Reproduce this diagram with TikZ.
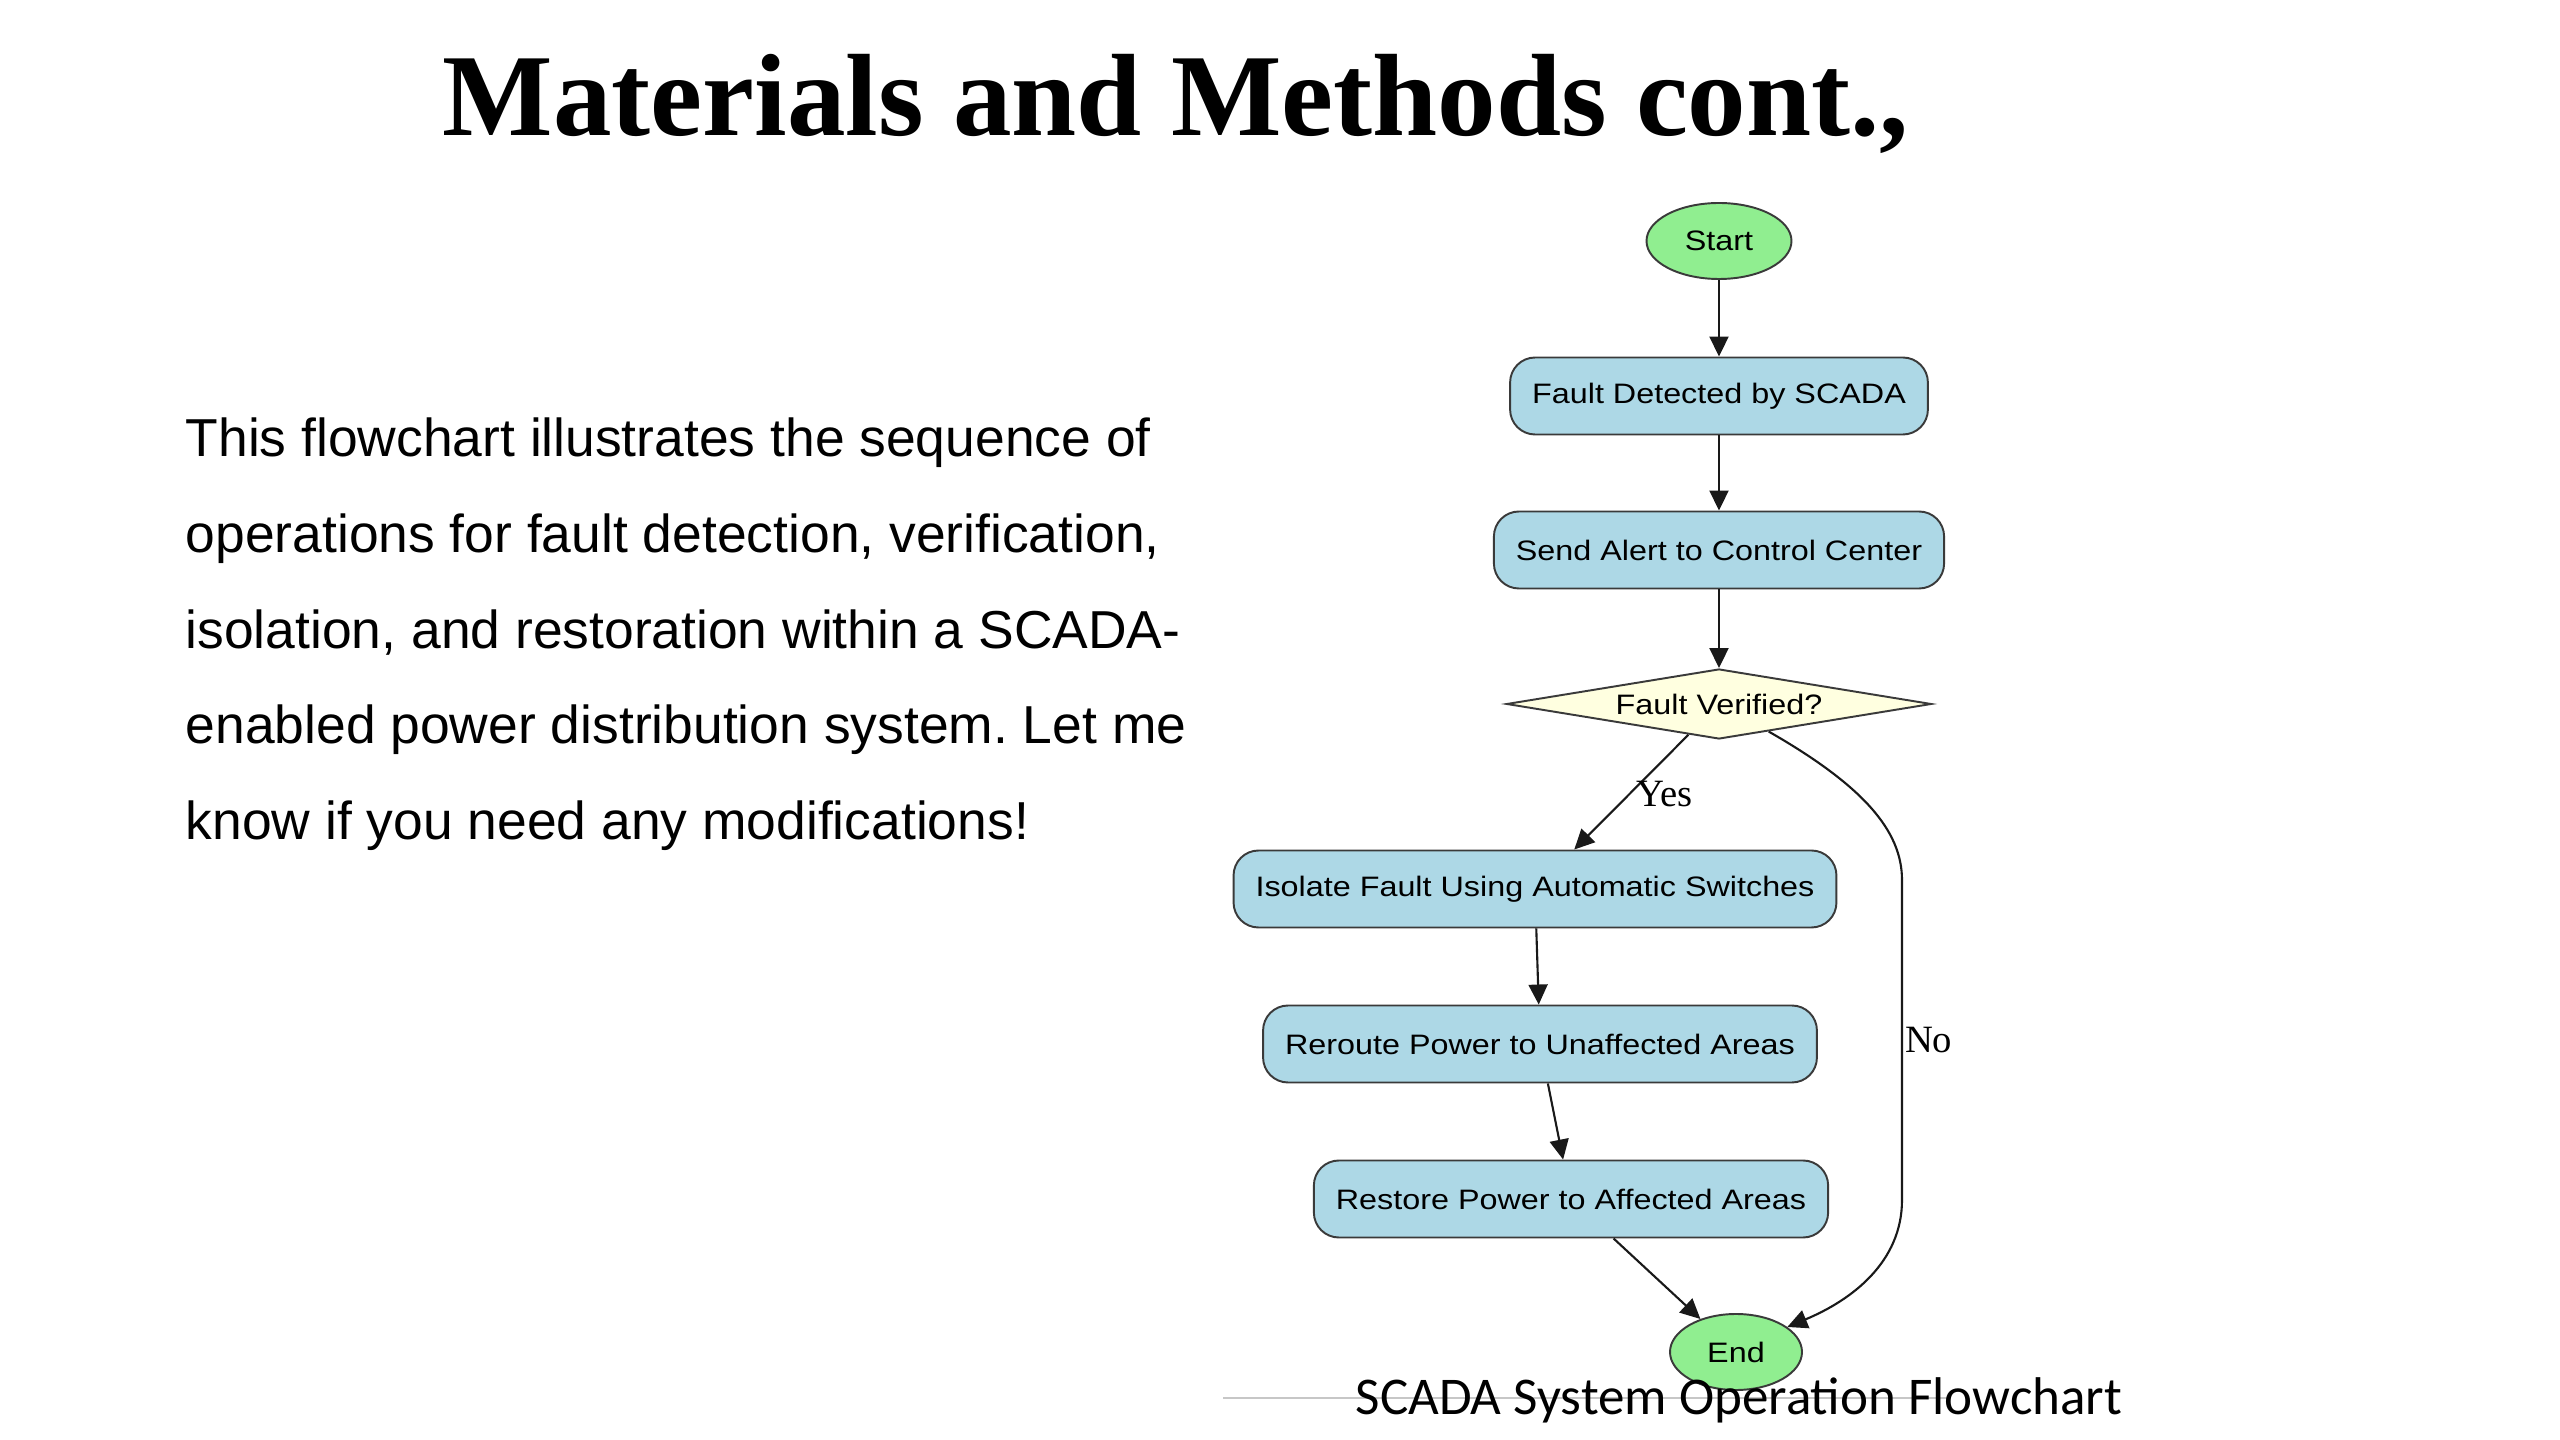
\documentclass[tikz,border=0pt]{standalone}
\usepackage{fontspec}
\setmainfont{Liberation Serif}
\newfontfamily\boxfont[FakeStretch=1.15]{Liberation Sans}
\newfontfamily\bodyfont{Liberation Sans}
\newfontfamily\capfont{Carlito}
\usetikzlibrary{shapes.geometric, arrows.meta}
\definecolor{boxblue}{HTML}{ADD8E6}
\definecolor{termgreen}{HTML}{90EE90}
\definecolor{askyellow}{HTML}{FFFFE0}
\definecolor{edgegray}{HTML}{3A3A3A}
\frenchspacing

\begin{document}
\begin{tikzpicture}[x=0.1mm, y=-0.1mm,
	stepbox/.style={draw=edgegray, line width=0.55pt, fill=boxblue, rounded corners=2.5mm,
	inner xsep=2.2mm, inner ysep=0pt, minimum height=7.7mm,
	font=\boxfont\fontsize{8}{9.6}\selectfont},
	term/.style={draw=edgegray, line width=0.55pt, fill=termgreen, ellipse, inner sep=0pt,
	minimum height=7.6mm, font=\boxfont\fontsize{8}{9.6}\selectfont},
	ask/.style={draw=edgegray, line width=0.55pt, fill=askyellow, diamond, aspect=6.1, inner sep=0pt,
	minimum width=42.5mm, minimum height=7mm, font=\boxfont\fontsize{8}{9.6}\selectfont},
	arr/.style={draw=black!90, line width=0.6pt, -{Triangle[length=2mm, width=1.9mm]}},
	lbl/.style={font=\fontsize{11}{13}\selectfont, inner sep=0pt}]
\useasboundingbox (0,0) rectangle (2560,1440);

% heading and text on the left
\node[inner sep=0pt, anchor=base, font=\bfseries\fontsize{33.3}{40}\selectfont] (head) at (1176, 136) {Materials and Methods cont.,};
\node[inner sep=0pt, anchor=base west, font=\bodyfont\fontsize{15.2}{18}\selectfont] (p1) at (185, 457) {This flowchart illustrates the sequence of};
\node[inner sep=0pt, anchor=base west, font=\bodyfont\fontsize{15.2}{18}\selectfont] (p2) at (185, 553) {operations for fault detection, verification,};
\node[inner sep=0pt, anchor=base west, font=\bodyfont\fontsize{15.2}{18}\selectfont] (p3) at (185, 649) {isolation, and restoration within a SCADA-};
\node[inner sep=0pt, anchor=base west, font=\bodyfont\fontsize{15.2}{18}\selectfont] (p4) at (185, 744) {enabled power distribution system. Let me};
\node[inner sep=0pt, anchor=base west, font=\bodyfont\fontsize{15.2}{18}\selectfont] (p5) at (185, 840) {know if you need any modifications!};

% flowchart
\node[term, minimum width=14.5mm] (start) at (1719, 241) {Start};
\node[stepbox] (detect) at (1719, 396) {Fault Detected by SCADA};
\node[stepbox] (alert) at (1719, 550) {Send Alert to Control Center};
\node[ask] (verify) at (1719, 704) {Fault Verified?};
\node[stepbox] (isolate) at (1535, 889) {Isolate Fault Using Automatic Switches};
\node[stepbox] (reroute) at (1540, 1044) {Reroute Power to Unaffected Areas};
\node[stepbox] (restore) at (1571, 1199) {Restore Power to Affected Areas};
\node[term, minimum width=13.2mm] (finish) at (1736, 1352) {End};

\coordinate (noTop) at (1902, 880);
\coordinate (noBot) at (1902, 1200);

\draw[arr] (start) to (detect);
\draw[arr] (detect) to (alert);
\draw[arr] (alert) to (verify);
\draw[arr] (verify) to node[lbl, anchor=west, pos=0.52, xshift=0.6mm] {Yes} (isolate);
\draw[arr] (isolate) to (reroute);
\draw[arr] (reroute) to (restore);
\draw[arr] (restore) to (finish);
\draw[arr] (verify.-29) .. controls (1862, 785) and (1902, 830) .. (noTop)
	to node[lbl, anchor=west, pos=0.5, xshift=0.2mm] {No} (noBot)
	.. controls (1902, 1262) and (1852, 1300) .. (finish.26);

% caption
\draw[black!22, line width=0.6pt] (1223, 1398) coordinate (capL) to (1950, 1398) coordinate (capR);
\node[inner sep=0pt, anchor=base west, font=\capfont\fontsize{15.1}{18}\selectfont] (cap) at (1355, 1414) {SCADA System Operation Flowchart};
\end{tikzpicture}
\end{document}
